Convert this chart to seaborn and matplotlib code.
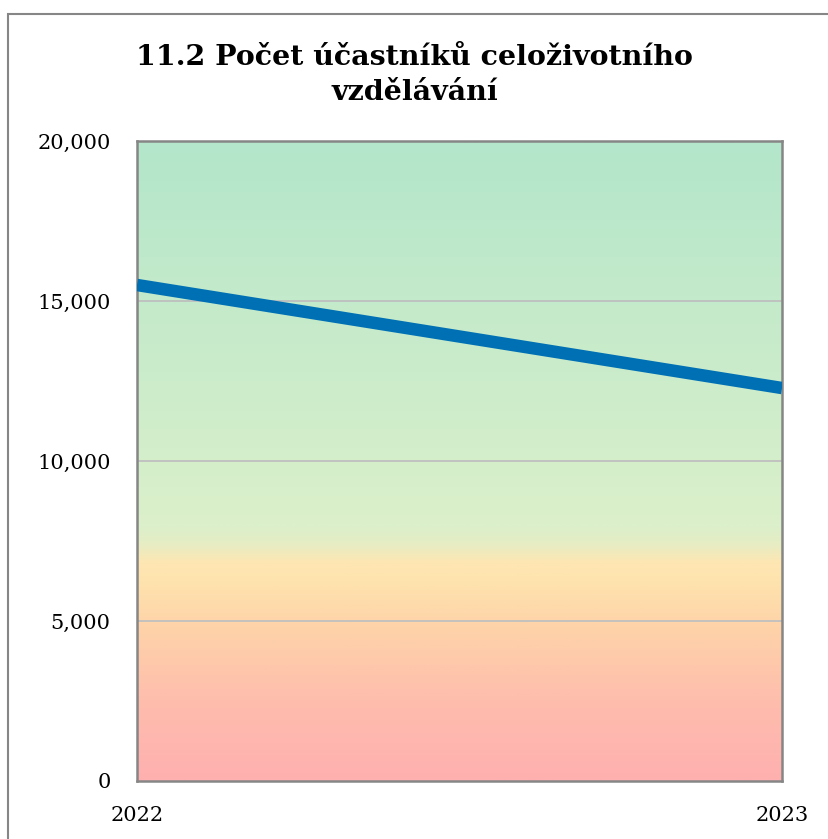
import numpy as np
import pandas as pd
import matplotlib
matplotlib.use('Agg')
import matplotlib.pyplot as plt
from matplotlib.colors import LinearSegmentedColormap
from matplotlib.patches import Rectangle
import seaborn as sns

# Data
years = [2022, 2023]
participants = [15500, 12280]
y_ticks = [0, 5000, 10000, 15000, 20000]
title = '11.2 Počet účastníků celoživotního\nvzdělávání'

sns.set_theme(style='white')
plt.rcParams['font.family'] = ['DejaVu Serif']

fig = plt.figure(figsize=(8.29, 8.39), dpi=100)
ax = fig.add_axes([137 / 829, 1 - 781 / 839, (782 - 137) / 829, (781 - 141) / 839])

# background gradient (bottom -> top)
grad = LinearSegmentedColormap.from_list('bg', [
    (0.00, '#ffb0b0'),
    (0.12, '#febdad'),
    (0.25, '#fed5a9'),
    (0.31, '#fee3ae'),
    (0.34, '#fee6b2'),
    (0.37, '#e6edc4'),
    (0.40, '#dbf0cb'),
    (1.00, '#b3e6ca'),
])
g = np.linspace(0, 1, 400).reshape(-1, 1)
ax.imshow(g, aspect='auto', cmap=grad, origin='lower',
          extent=[years[0], years[-1], y_ticks[0], y_ticks[-1]], zorder=0)

df = pd.DataFrame({'year': years, 'value': participants})
sns.lineplot(data=df, x='year', y='value', ax=ax, color='#0070b5',
             linewidth=9, solid_capstyle='butt', zorder=3)

ax.set_xlim(years[0], years[-1])
ax.set_ylim(y_ticks[0], y_ticks[-1])
ax.set_xticks(years)
ax.set_xticklabels([str(y) for y in years], fontsize=15, color='black')
ax.set_yticks(y_ticks)
ax.set_yticklabels([f'{v:,}' for v in y_ticks], fontsize=15, color='black')
ax.tick_params(axis='x', length=0, pad=18)
ax.tick_params(axis='y', length=0, pad=19)
ax.set_xlabel('')
ax.set_ylabel('')
for v in y_ticks[1:-1]:
    ax.axhline(v, color='#bfbfbf', linewidth=1.3, zorder=1)
for s in ax.spines.values():
    s.set_color('#868686')
    s.set_linewidth(1.8)
    s.set_visible(True)

fig.text(0.5, 1 - 75 / 839, title, ha='center', va='center', color='black',
         fontsize=20.5, fontweight='bold', linespacing=1.35)

# chart border
fig.patches.append(Rectangle((8 / 829, -0.1), 1.1, 1 - 14 / 839 + 0.1,
                             transform=fig.transFigure, fill=False,
                             edgecolor='#868686', linewidth=1.5))

fig.savefig('out.png', dpi=100)
